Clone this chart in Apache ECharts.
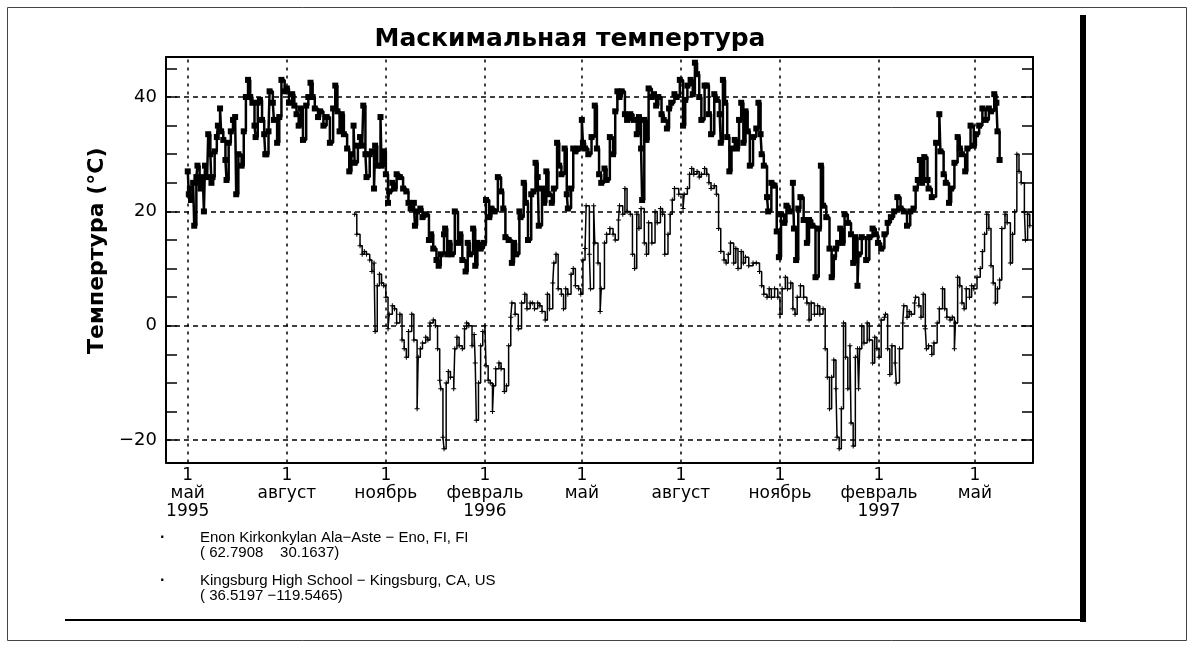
<!DOCTYPE html>
<html>
<head>
<meta charset="utf-8">
<script src="https://cdn.jsdelivr.net/npm/echarts@6/dist/echarts.min.js"></script>
<style>
  html, body { margin: 0; padding: 0; background: #fff; }
  #chart { width: 1194px; height: 648px; }
</style>
</head>
<body>
<div id="chart"></div>
<script>
// дни от 1 мая 1995
const monthDays = [0, 92, 184, 276, 366, 458, 550, 642, 731];
const monthLabels = ['1\nмай\n1995', '1\nавгуст', '1\nноябрь', '1\nфевраль\n1996', '1\nмай',
                     '1\nавгуст', '1\nноябрь', '1\nфевраль\n1997', '1\nмай'];
const tempLabels = [-20, 0, 20, 40];
const tempTicks = [-20, -15, -10, -5, 0, 5, 10, 15, 20, 25, 30, 35, 40, 45];

const enonName = 'Enon Kirkonkylan Ala−Aste − Eno, FI, FI';
const enonCoords = '( 62.7908    30.1637)';
const kingsName = 'Kingsburg High School − Kingsburg, CA, US';
const kingsCoords = '( 36.5197 −119.5465)';

// [день, °C]
const kingsburg = [
  [0,27],[1,23],[2,24],[3,22],[5,25],[6,17.5],[8,26],[9,28],[11,25],[12,24],[14,26],[15,20],[16,28],[18,26],
  [19,33.5],[21,30],[22,25],[23,26],[25,30.5],[27,33],[28,35],[30,38],[31,34],[33,32.5],[35,29],[36,25.5],
  [38,32],[40,34],[42,36],[44,36.5],[45,23],[47,30],[50,28],[52,34],[54,40],[56,43],[58,40],[60,39],[62,35],
  [63,33],[65,39],[67,39.5],[69,36],[71,33.5],[72,30],[73,30],[75,34],[76,41],[79,39],[80,36],[83,32],
  [85,36.5],[87,43],[90,41],[92,41.5],[94,39],[97,40.5],[99,38.5],[101,37],[103,35],[105,38],[107,32.5],
  [110,38.5],[112,40],[114,42.5],[116,40],[118,38],[121,36.5],[123,37.5],[126,35],[129,36.5],[132,32],
  [135,38],[137,42],[139,37.5],[141,34],[143,37],[145,33.5],[148,31],[150,27],[152,30],[154,35],[155,28.5],
  [158,31.5],[160,33],[162,31.5],[163,38.5],[165,30],[166,26],[169,30],[171,30.5],[173,24],[174,31.5],
  [176,28],[179,36.5],[180,28],[182,30.5],[184,26.5],[186,21.5],[187,23.5],[190,25],[192,24],[194,26.5],
  [197,26],[200,24],[203,23.5],[205,21.5],[207,20.5],[210,21.5],[211,17.5],[213,20],[216,20.5],[218,19],
  [221,19.5],[224,15],[226,16],[228,13.5],[231,11.5],[233,10.5],[235,12.5],[238,16],[239,17],[241,12.5],
  [243,14.5],[245,12.5],[248,20],[251,14.5],[253,16],[255,11.5],[258,9.5],[260,14.5],[262,12.5],[265,17],
  [267,10.5],[269,14.5],[272,13.5],[275,14.5],[277,22],[280,19],[282,20.5],[285,20],[288,26],[291,23.5],
  [293,20.5],[295,15.5],[298,15],[301,11],[303,14.5],[305,12.5],[308,20],[309,19],[312,25],[314,21.5],
  [316,15],[319,23],[321,23.5],[323,28.5],[325,26],[326,17.5],[329,24],[331,21.5],[333,27],[335,23],
  [338,21.5],[340,24],[343,32],[345,28],[347,26.5],[350,31],[352,23],[353,20.5],[356,24],[358,31],[360,30.5],
  [363,31],[366,36],[367,32],[369,31],[372,30],[375,33],[378,38.5],[380,31],[382,26.5],[384,25],[387,27.5],
  [389,25.5],[392,33],[395,30],[397,37.5],[399,41],[401,40],[403,41],[406,37],[408,36],[411,37],[414,36],
  [417,33.5],[419,36.5],[421,31],[422,22],[424,36],[426,32.5],[428,41.5],[431,40],[433,40.5],[435,38.5],
  [437,40],[440,37],[442,36],[445,34.5],[447,38],[449,39],[452,40.5],[454,40],[457,43],[460,35],[462,39.5],
  [464,42],[467,43],[469,40.5],[471,46],[473,44],[475,40],[477,36],[480,42],[482,42],[484,37],[486,33.5],
  [489,40.5],[491,39.5],[494,37],[495,32],[497,43],[499,39],[501,33],[503,27],[505,31],[508,32.5],[510,31],
  [512,36],[514,39],[516,32],[518,37.5],[520,34],[522,28],[525,33],[528,34.5],[530,39],[532,33.5],[533,30],
  [535,28],[538,22.5],[539,20],[542,25],[545,24.5],[547,16.5],[549,12],[551,19.5],[554,18],[556,21],[559,20],
  [562,25],[563,17],[565,11.5],[567,20.5],[569,22.5],[572,18.5],[575,14.5],[577,18.5],[580,17.5],[583,8.5],
  [586,17],[588,28],[590,21],[593,19],[596,13.5],[598,8.5],[600,12],[602,13.5],[604,14.5],[606,17],[608,14.5],
  [610,19.5],[613,18],[616,16],[618,11],[620,15.5],[622,7],[623,12.5],[626,15.5],[630,11.5],[633,15.5],
  [636,17],[639,16],[641,14.5],[644,13.5],[647,16],[650,18],[653,19],[656,20],[659,22.5],[662,20.5],[665,20],
  [668,17.5],[671,20],[674,20.5],[676,24],[678,25.5],[680,29],[682,25],[684,29.5],[687,25.5],[688,24],
  [691,22.5],[695,32],[698,37],[699,30.5],[702,26.5],[704,25],[707,21.5],[709,24],[712,28.5],[715,33],
  [717,31],[719,30],[722,27],[724,31],[727,35],[730,31.5],[732,33.5],[735,35],[738,38],[741,36],[744,38],
  [746,37.5],[749,40.5],[751,39],[752,34],[754,29]
];

const enon = [
  [155,19.5],[157,16],[160,14],[162,12.5],[164,13],[166,12.5],[169,11.5],[171,9.5],[173,11],[174,-1],[176,7],
  [178,9],[180,7.5],[182,7],[184,5],[186,-0.5],[187,2],[190,3.5],[192,3],[194,0.5],[197,2],[199,-2.5],[201,-4],
  [203,-5.5],[205,-1],[208,2],[210,-2.5],[213,-14.5],[214,-5.5],[216,-4],[218,-3],[221,-2],[223,-2.5],
  [225,0.5],[228,1],[230,0],[232,-4],[234,-9.5],[235,-11],[237,-19.5],[238,-21.5],[240,-10],[242,-8],[244,-9],
  [247,-11],[248,-4],[250,-2],[252,-3.5],[255,-4],[257,-0.5],[259,0.5],[261,0],[264,-3.5],[266,-1.5],
  [267,-6.5],[268,-16.5],[270,-10],[272,-3.5],[274,-1],[276,0],[277,-7],[279,-9.5],[281,-10],[283,-15],
  [284,-10.5],[286,-7.5],[289,-6.5],[291,-7.5],[294,-11.5],[296,-10.5],[298,-3.5],[300,1.5],[301,4],[304,2],
  [307,-0.5],[310,4],[313,5.5],[315,3],[318,4],[320,4],[322,3],[325,4],[327,3.5],[329,2.5],[332,1],[334,5.5],
  [336,3],[339,7.5],[340,11],[342,12.5],[344,6.5],[347,5.5],[349,3],[351,6.5],[353,5.5],[356,9],[358,10],
  [360,7],[363,6.5],[365,5.5],[367,11.5],[369,13.5],[370,21],[373,12.5],[374,6.5],[377,21],[378,14.5],
  [381,11],[383,2.5],[384,6.5],[387,14.5],[389,16],[392,17],[395,16],[397,15],[400,18.5],[401,21],[404,19.5],
  [406,24],[408,20],[411,19.5],[413,12.5],[415,10],[417,19.5],[419,17],[421,20.5],[424,14.5],[426,12.5],
  [428,18],[431,14.5],[434,20],[436,18],[439,20.5],[441,19.5],[443,12.5],[446,16],[448,19.5],[450,22],
  [452,24],[456,23],[460,20.5],[461,23],[464,24],[466,26.5],[468,27.5],[470,26.5],[473,27],[475,26],
  [477,26.5],[480,27.5],[482,26.5],[484,25],[486,24],[489,24.5],[491,23],[493,17],[495,13],[498,11.5],
  [500,11],[502,12.5],[504,14.5],[507,11],[509,13.5],[511,10],[514,13],[516,11],[518,12],[521,10.5],[525,11],
  [528,11],[531,9.5],[533,7],[535,5.5],[538,5],[540,6.5],[542,5],[545,6.5],[548,5],[550,2],[552,6.5],
  [555,8.5],[557,6.5],[560,7.5],[562,3],[564,2],[566,5],[569,7],[572,5],[575,4],[577,1],[579,4],[582,2],
  [585,3.5],[587,2],[590,3],[592,-4],[594,-9],[596,-14.5],[598,-9],[600,-6],[602,-11],[603,-19.5],[605,-21.5],
  [607,-14.5],[609,0.5],[611,-5.5],[613,-11],[615,-3.5],[616,-17],[618,-21],[620,-5.5],[622,-4],[623,-11],
  [624,-4],[626,0],[628,-3],[631,0.5],[633,-2.5],[636,-6.5],[638,-2],[640,-4],[642,-5.5],[644,1],[647,1.5],
  [648,2],[650,-4],[652,-8.5],[654,-3.5],[657,-6.5],[658,-10],[661,-4],[664,0.5],[665,3.5],[668,1.5],
  [670,2.5],[672,2],[675,4],[676,5],[679,3.5],[681,1.5],[683,5.5],[685,-0.5],[686,-4],[688,-3.5],[691,-5],
  [693,-3],[696,0.5],[698,3],[701,6.5],[703,3],[705,1.5],[708,1],[710,1.5],[712,-4],[713,0.5],[715,8.5],
  [717,7],[719,4],[721,3],[723,6.5],[726,5],[728,7],[730,6.5],[733,8.5],[736,10],[738,13],[740,16],[742,19.5],
  [744,17],[746,10.5],[748,7.5],[750,4],[752,6.5],[754,8],[756,17],[759,19.5],[761,18],[764,11],[766,16],
  [768,20],[770,30],[772,27],[774,25],[777,20],[778,15],[780,19.5],[782,17.5]
];

const chart = echarts.init(document.getElementById('chart'), null, { renderer: 'canvas' });

const minus = v => (v < 0 ? '−' + Math.abs(v) : String(v));
const plusIcon = 'path://M2,0H3V2H5V3H3V5H2V3H0V2H2Z';
const boxLine = { onZero: false, lineStyle: { color: '#000', width: 2 } };

chart.setOption({
  animation: false,
  backgroundColor: '#fff',
  title: {
    text: 'Маскимальная темпертура',
    left: 565, top: 22, textAlign: 'center',
    textStyle: { fontFamily: 'DejaVu Sans', fontSize: 25, fontWeight: 'bold', color: '#000' }
  },
  grid: { left: 166, top: 57, right: 161, bottom: 185.5, containLabel: false },
  legend: {
    orient: 'vertical', left: 150, top: 525, itemGap: 12,
    icon: 'none', itemWidth: 0, itemHeight: 0,
    data: [enonName, kingsName],
    formatter: name => {
      const c = name === enonName ? enonCoords : kingsCoords;
      return '{b|·}{t|' + name + '}\n{b| }{t|' + c + '}';
    },
    textStyle: {
      color: '#000',
      rich: {
        b: { width: 40, fontSize: 16, fontWeight: 'bold', color: '#000', lineHeight: 15 },
        t: { fontFamily: 'Liberation Sans', fontSize: 15, color: '#000', lineHeight: 15 }
      }
    }
  },
  xAxis: [{
    type: 'value', position: 'bottom', min: -20.2, max: 785,
    axisLine: boxLine,
    axisTick: { show: false },
    splitLine: { show: false },
    axisLabel: {
      customValues: monthDays, margin: 4,
      fontFamily: 'DejaVu Sans', fontSize: 17, lineHeight: 18, color: '#000',
      formatter: v => { const i = monthDays.indexOf(v); return i >= 0 ? monthLabels[i] : ''; }
    }
  }, {
    type: 'value', position: 'top', min: -20.2, max: 785,
    axisLine: boxLine,
    axisTick: { show: false }, axisLabel: { show: false }, splitLine: { show: false }
  }],
  yAxis: [{
    type: 'value', position: 'left', min: -23.9, max: 47,
    name: 'Темпертура (°C)', nameLocation: 'middle', nameGap: 58,
    nameTextStyle: { fontFamily: 'DejaVu Sans', fontSize: 22, fontWeight: 'bold', color: '#000',
                     padding: [0, 0, 0, 18] },
    axisLine: boxLine,
    axisTick: { customValues: tempTicks, inside: true, length: 11, lineStyle: { color: '#000', width: 1.5 } },
    axisLabel: { customValues: tempLabels, margin: 9, fontFamily: 'DejaVu Sans', fontSize: 18, color: '#000',
                 formatter: minus },
    splitLine: { show: false }
  }, {
    type: 'value', position: 'right', min: -23.9, max: 47,
    axisLine: boxLine,
    axisTick: { customValues: tempTicks, inside: true, length: 11, lineStyle: { color: '#000', width: 1.5 } },
    axisLabel: { show: false }, splitLine: { show: false }
  }],
  series: [{
    name: 'grid', type: 'line', data: [], silent: true, z: 1,
    markLine: {
      symbol: 'none', silent: true, label: { show: false },
      data: monthDays.map(d => ({ xAxis: d, lineStyle: { color: '#000', type: [3, 5], width: 1.5 } }))
        .concat(tempLabels.map(t => ({ yAxis: t, lineStyle: { color: '#000', type: [5, 4], width: 1.5 } })))
    }
  }, {
    name: enonName, type: 'line', step: 'end', z: 3,
    data: enon,
    symbol: plusIcon, symbolSize: 5, showAllSymbol: true,
    itemStyle: { color: '#000' },
    lineStyle: { color: '#000', width: 1.5 }
  }, {
    name: kingsName, type: 'line', step: 'end', z: 4,
    data: kingsburg,
    symbol: 'rect', symbolSize: 6, showAllSymbol: true,
    itemStyle: { color: '#000' },
    lineStyle: { color: '#000', width: 2.5 }
  }],
  graphic: [
    { type: 'rect', silent: true, shape: { x: 7.5, y: 7.5, width: 1179, height: 633 },
      style: { fill: null, stroke: '#444', lineWidth: 1 } },
    { type: 'rect', silent: true, shape: { x: 1080, y: 15, width: 6, height: 607 }, style: { fill: '#000' } },
    { type: 'line', silent: true, shape: { x1: 65, y1: 620, x2: 1083, y2: 620 },
      style: { stroke: '#000', lineWidth: 2 } }
  ]
});
</script>
</body>
</html>
